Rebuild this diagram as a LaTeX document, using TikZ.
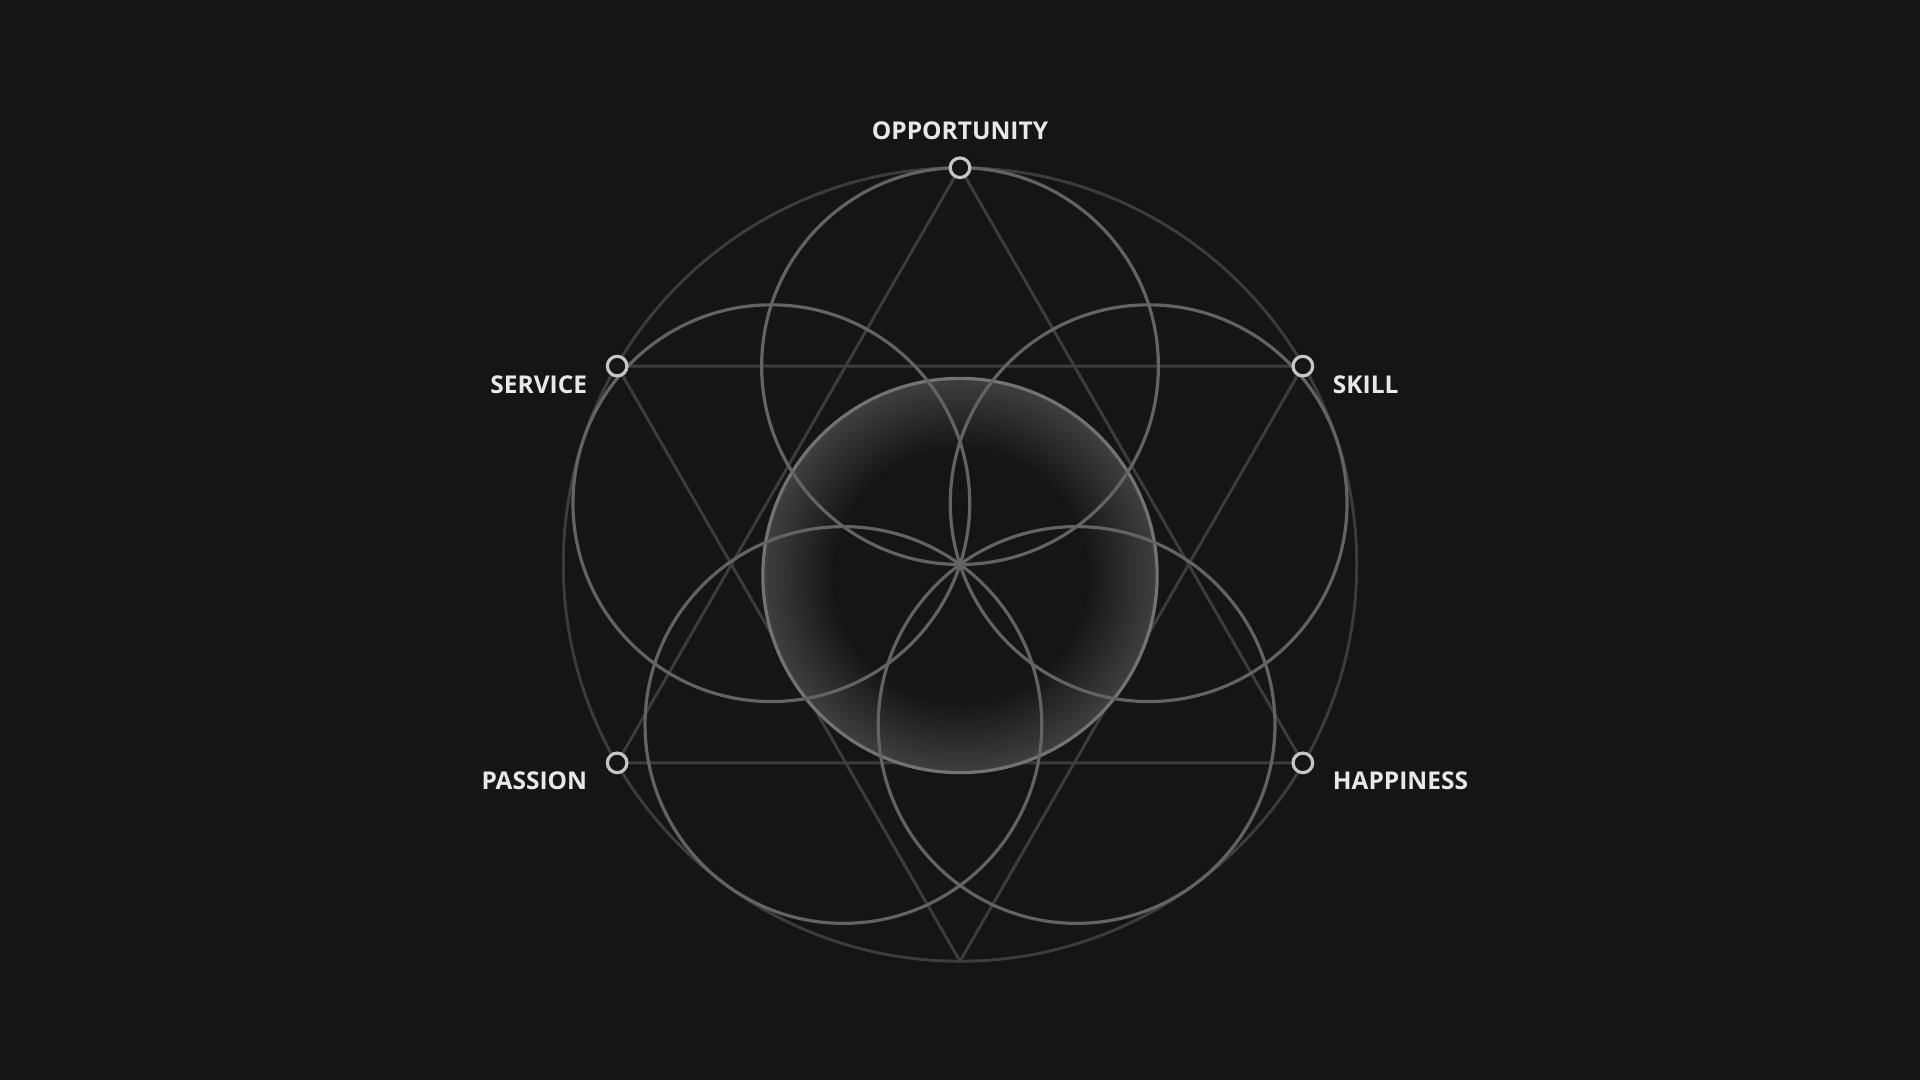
\documentclass[tikz,border=0pt]{standalone}
\usepackage{fontspec}
\usetikzlibrary{calc}
\setmainfont{Open Sans}
\definecolor{bg}{HTML}{141616}
\definecolor{circ}{HTML}{626363}
\definecolor{hexl}{HTML}{3B3D3D}
\definecolor{rim}{HTML}{3E3F3F}
\definecolor{txt}{HTML}{E8E8E8}
\pgfdeclareradialshading{glow}{\pgfpoint{0bp}{0bp}}{color(0bp)=(bg); color(16bp)=(bg); color(25bp)=(rim); color(50bp)=(rim)}
\begin{document}
\begin{tikzpicture}[x=1pt,y=-1pt,
  petal/.style={draw=circ,line width=2.6pt},
  hexline/.style={draw=hexl,line width=2.4pt},
  marker/.style={circle,draw=txt!85!black,fill=bg,line width=2.6pt,minimum size=16pt,inner sep=0pt},
  lbl/.style={text=txt,font=\bfseries\fontsize{20}{24}\selectfont}]
\fill[bg] (0,0) rectangle (1568,882);
\useasboundingbox (0,0) rectangle (1568,882);
\coordinate (c) at (784,461);
% outer circle
\draw[hexl,line width=2.4pt] (c) circle (324);
% hexagram
\coordinate (t) at (784,137);
\coordinate (sk) at (1064,299);
\coordinate (ha) at (1064,623);
\coordinate (b) at (784,785);
\coordinate (pa) at (504,623);
\coordinate (se) at (504,299);
\draw[hexline] (t) -- (ha) -- (pa) -- cycle;
\draw[hexline] (se) -- (sk) -- (b) -- cycle;
% central shaded circle
\shade[shading=glow] (784,470) circle (161);
\draw[petal,draw=circ!90!white] (784,470) circle (161);
% petals
\foreach \a in {90,162,234,306,18}
  \draw[petal] ($(c)+(\a:162 and -162)$) circle (162);
% markers
\node[marker] (mt) at (t) {};
\node[marker] (msk) at (sk) {};
\node[marker] (mha) at (ha) {};
\node[marker] (mpa) at (pa) {};
\node[marker] (mse) at (se) {};
% labels
\node[lbl] (lt) at (784,107) {OPPORTUNITY};
\node[lbl,anchor=east] (lse) at (483,314) {SERVICE};
\node[lbl,anchor=west] (lsk) at (1085,314) {SKILL};
\node[lbl,anchor=east] (lpa) at (483,638) {PASSION};
\node[lbl,anchor=west] (lha) at (1085,638) {HAPPINESS};
\end{tikzpicture}
\end{document}
